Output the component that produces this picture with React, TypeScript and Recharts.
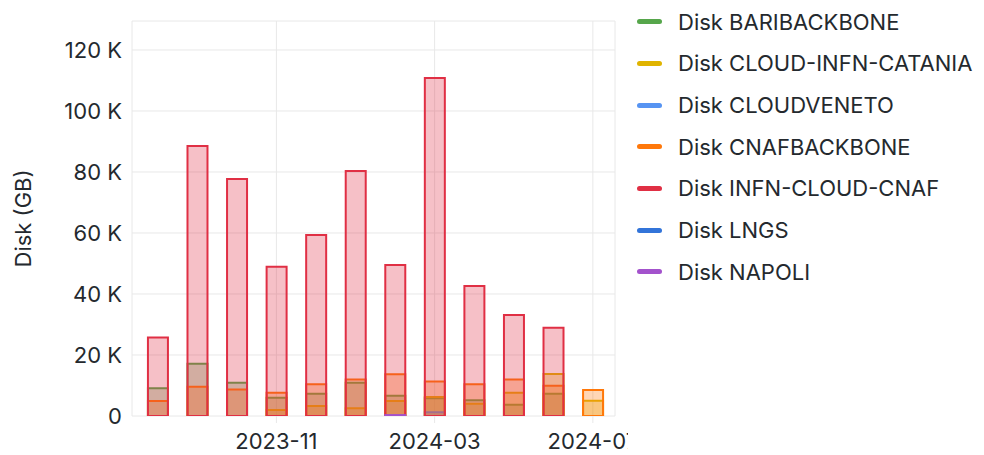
import React from 'react';
import { BarChart, Bar, XAxis, YAxis, CartesianGrid } from 'recharts';

const months = ['2023-08', '2023-09', '2023-10', '2023-11', '2023-12', '2024-01', '2024-02', '2024-03', '2024-04', '2024-05', '2024-06', '2024-07'];
const bariBackbone = [9100, 17100, 10900, 6000, 7300, 10900, 6600, 5800, 5200, 3700, 7300, null];
const cloudInfnCatania = [null, null, null, 2000, 3300, 2500, 4900, 6200, 4000, 7600, 13800, 5000];
const cloudVeneto = [null, null, null, null, null, null, null, 1200, null, null, null, null];
const cnafBackbone = [4900, 9600, 8700, 7600, 10400, 12000, 13700, 11300, 10400, 12000, 9900, 8500];
const infnCloudCnaf = [25700, 88500, 77700, 48900, 59300, 80300, 49500, 110800, 42600, 33100, 28900, null];
const lngs = [null, null, null, null, null, null, null, null, null, null, null, null];
const napoli = [null, null, null, null, null, null, 300, null, null, null, null, null];
const xTickLabels = ['2023-11', '2024-03', '2024-07'];
const yTicks = [0, 20000, 40000, 60000, 80000, 100000, 120000];

const series = [
  { key: 'bari', name: 'Disk BARIBACKBONE', color: '#56A64B', values: bariBackbone },
  { key: 'catania', name: 'Disk CLOUD-INFN-CATANIA', color: '#E0B400', values: cloudInfnCatania },
  { key: 'veneto', name: 'Disk CLOUDVENETO', color: '#5794F2', values: cloudVeneto },
  { key: 'cnafbb', name: 'Disk CNAFBACKBONE', color: '#FF780A', values: cnafBackbone },
  { key: 'infn', name: 'Disk INFN-CLOUD-CNAF', color: '#E02F44', values: infnCloudCnaf },
  { key: 'lngs', name: 'Disk LNGS', color: '#3274D9', values: lngs },
  { key: 'napoli', name: 'Disk NAPOLI', color: '#A352CC', values: napoli },
];

const data = months.map((m, i) => {
  const row: Record<string, any> = { i, month: m };
  series.forEach((s) => { row[s.key] = s.values[i]; });
  return row;
});

const xTicks = xTickLabels.map((l) => months.indexOf(l));

const FONT = 'Inter, "Noto Sans", sans-serif';
const TEXT = '#24292E';
const GRID = '#e8e8e8';
const FS = 22;

export default function App() {
  return (
    <div style={{ position: 'absolute', left: 0, top: 0, width: 984, height: 455, background: '#fff', fontFamily: FONT }}>
      <div style={{ position: 'absolute', left: 0, top: 0, width: 628, height: 455, overflow: 'hidden' }}>
        <BarChart
          width={630}
          height={455}
          data={data}
          margin={{ top: 21, right: 15, left: 0, bottom: 0 }}
          barGap={-20}
          barSize={20}
        >
          <CartesianGrid stroke={GRID} strokeWidth={1} />
          <XAxis
            dataKey="i"
            type="number"
            domain={[-0.65, 11.56]}
            ticks={xTicks}
            tickFormatter={(v: number) => months[v]}
            axisLine={false}
            tickLine={{ stroke: GRID }}
            tickSize={7}
            tickMargin={10}
            height={39}
            interval={0}
            allowDataOverflow
            tick={{ fill: TEXT, fontSize: FS, fontFamily: FONT }}
          />
          <YAxis
            type="number"
            domain={[0, 129500]}
            ticks={yTicks}
            tickFormatter={(v: number) => (v === 0 ? '0' : `${v / 1000} K`)}
            axisLine={false}
            tickLine={false}
            tickMargin={4}
            width={132}
            interval={0}
            allowDataOverflow
            tick={{ fill: TEXT, fontSize: FS, fontFamily: FONT }}
            label={{ value: 'Disk (GB)', angle: -90, position: 'center', dx: -43, fill: TEXT, fontSize: FS, fontFamily: FONT }}
          />
          {series.map((s) => (
            <Bar
              key={s.key}
              dataKey={s.key}
              name={s.name}
              fill={s.color}
              fillOpacity={0.3}
              stroke={s.color}
              strokeWidth={2}
              isAnimationActive={false}
            />
          ))}
        </BarChart>
      </div>
      <div style={{ position: 'absolute', left: 637, top: 1, width: 347 }}>
        {series.map((s) => (
          <div key={s.key} style={{ height: 41.67, display: 'flex', alignItems: 'center', whiteSpace: 'nowrap' }}>
            <span style={{ display: 'inline-block', width: 25, height: 5, borderRadius: 3, background: s.color, marginRight: 16 }} />
            <span style={{ fontSize: FS, color: TEXT, fontFamily: FONT }}>{s.name}</span>
          </div>
        ))}
      </div>
    </div>
  );
}
